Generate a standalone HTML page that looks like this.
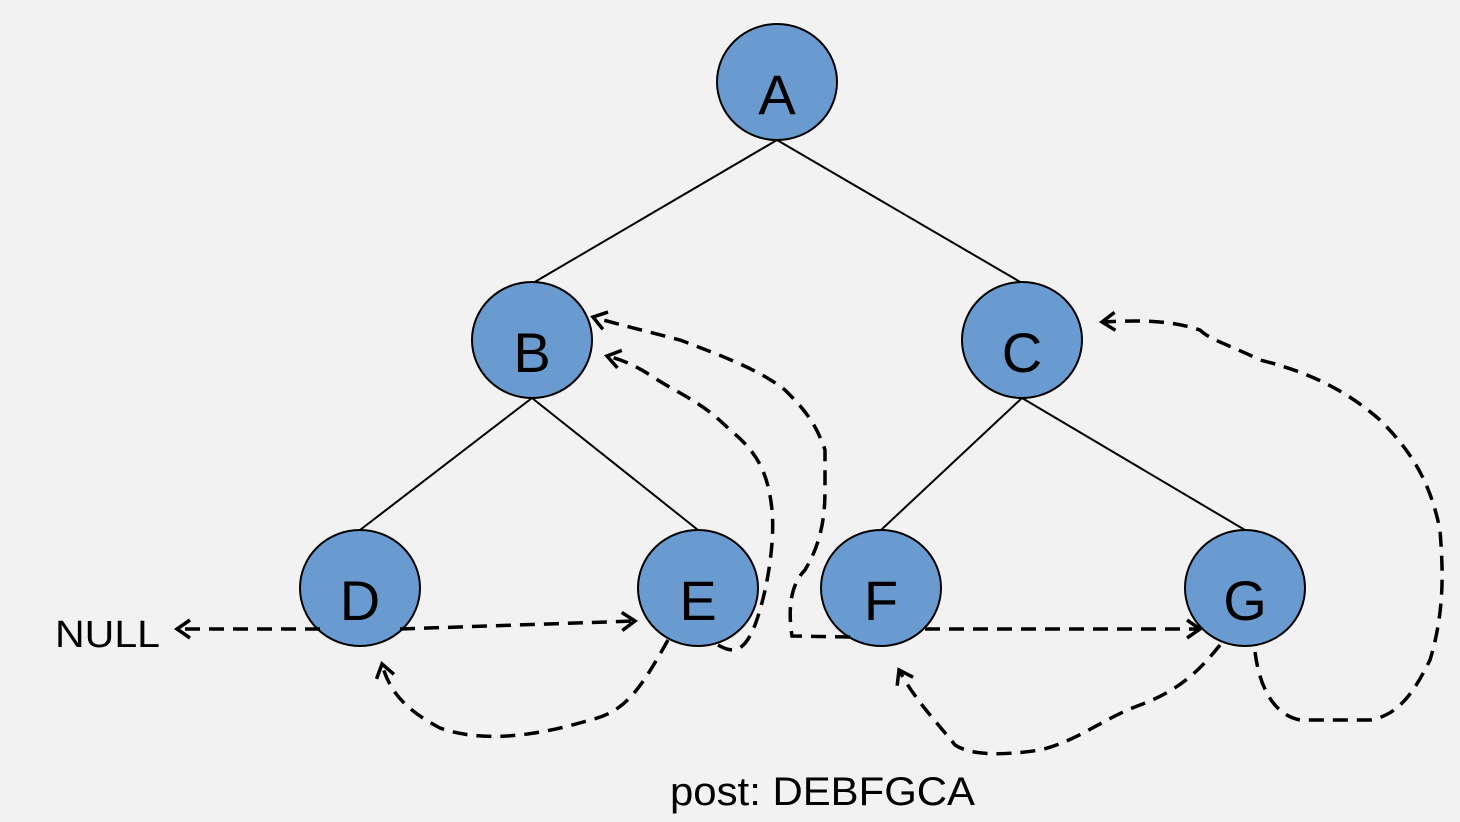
<!DOCTYPE html>
<html><head><style>
html,body{margin:0;padding:0;background:#f2f2f2;}
svg{display:block;}
text{font-family:"Liberation Sans","DejaVu Sans",sans-serif;}
</style></head><body>
<svg width="1460" height="822" viewBox="0 0 1460 822" xmlns="http://www.w3.org/2000/svg">
<defs>
<marker id="ar" markerWidth="22" markerHeight="22" refX="17" refY="11" orient="auto" markerUnits="userSpaceOnUse">
<polyline points="4,2 17,11 4,20" fill="none" stroke="#000" stroke-width="3.5"/>
</marker>
</defs>
<rect width="1460" height="822" fill="#f2f2f2"/>
<g stroke="#000" stroke-width="2">
<line x1="777" y1="140" x2="533" y2="283"/>
<line x1="777" y1="140" x2="1022" y2="283"/>
<line x1="532" y1="398" x2="360" y2="530"/>
<line x1="532" y1="398" x2="698" y2="530"/>
<line x1="1022" y1="398" x2="881" y2="530"/>
<line x1="1022" y1="398" x2="1245" y2="530"/>
</g>
<g fill="#6a9bd0" stroke="#000" stroke-width="2">
<ellipse cx="777" cy="82" rx="60" ry="58"/>
<ellipse cx="532" cy="340" rx="60" ry="58"/>
<ellipse cx="1022" cy="340" rx="60" ry="58"/>
<ellipse cx="360" cy="588" rx="60" ry="58"/>
<ellipse cx="698" cy="588" rx="60" ry="58"/>
<ellipse cx="881" cy="588" rx="60" ry="58"/>
<ellipse cx="1245" cy="588" rx="60" ry="58"/>
</g>
<g font-size="56" text-anchor="middle" fill="#000">
<text x="777" y="114">A</text>
<text x="532" y="372">B</text>
<text x="1022" y="372">C</text>
<text x="360" y="620">D</text>
<text x="698" y="620">E</text>
<text x="881" y="620">F</text>
<text x="1245" y="620">G</text>
</g>
<g fill="none" stroke="#000" stroke-width="3.5" stroke-dasharray="15,9">
<path d="M320,629 L177,629" marker-end="url(#ar)"/>
<path d="M400,629 L635,621" marker-end="url(#ar)"/>
<path d="M668,640 C640,690 625,712 590,720 C530,738 480,742 440,728 C410,712 390,695 382,664" marker-end="url(#ar)"/>
<path d="M718,645 C735,655 745,650 755,625 C768,590 775,540 772,510 C768,470 755,450 730,430 C700,400 680,395 650,375 C630,362 615,358 607,356" marker-end="url(#ar)"/>
<path d="M850,637 L792,636 C788,610 790,585 805,570 C820,545 825,520 825,490 L825,450 C815,420 800,405 785,390 C760,370 720,355 680,340 C650,332 620,325 593,317" marker-end="url(#ar)"/>
<path d="M925,629 L1200,629" marker-end="url(#ar)"/>
<path d="M1220,645 C1200,670 1180,690 1140,705 C1100,720 1080,740 1040,750 C1000,756 970,755 955,745 C935,720 915,700 899,670" marker-end="url(#ar)"/>
<path d="M1255,652 C1260,690 1275,715 1300,720 L1370,720 C1400,715 1415,690 1430,660 C1445,610 1443,570 1440,530 C1430,480 1410,450 1380,420 C1340,385 1300,370 1260,360 C1230,345 1210,340 1200,330 C1170,320 1140,320 1102,322" marker-end="url(#ar)"/>
</g>
<text x="55" y="647" font-size="38" fill="#000" textLength="105" lengthAdjust="spacingAndGlyphs">NULL</text>
<text x="670" y="805" font-size="40" fill="#000" textLength="305" lengthAdjust="spacingAndGlyphs">post: DEBFGCA</text>
</svg>
</body></html>
